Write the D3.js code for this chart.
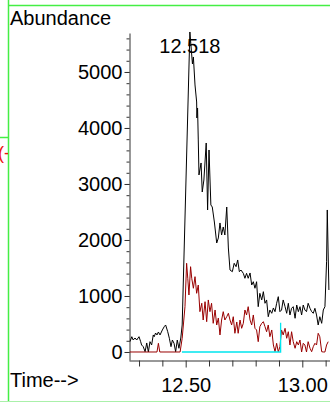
<!DOCTYPE html>
<html><head><meta charset="utf-8">
<script src="https://cdn.jsdelivr.net/npm/d3@7"></script>
<style>
html,body{margin:0;padding:0;background:#fff;}
svg{display:block;}
text{font-family:"Liberation Sans",Arial,sans-serif;}
</style></head>
<body>
<script>
// ---- data ----
const blackTime = [12.261,12.269,12.275,12.283,12.290,12.300,12.307,12.311,12.318,12.326,
12.333,12.340,12.347,12.354,12.361,12.365,12.371,12.377,12.383,12.390,
12.400,12.408,12.414,12.423,12.430,12.437,12.443,12.450,12.457,12.464,
12.471,12.479,12.485,12.518,
12.529,12.533,12.540,12.547,12.548,12.551,12.554,12.557,
12.566,12.571,12.578,12.588,12.594,12.600,12.608,12.614,12.623,12.633,12.640,12.647,12.654,12.661,12.668,12.676,12.683,
12.690,12.700,12.708,12.716,12.723,12.730,12.737,12.747,12.754,12.761,
12.768,12.776,12.783,12.790,12.797,12.804,12.811,12.818,12.826,12.833,
12.840,12.847,12.854,12.861,12.869,12.876,12.883,12.890,12.897,12.904,
12.911,12.918,12.926,12.933,12.940,12.947,12.954,12.961,12.969,12.976,
12.983,12.990,12.997,13.004,13.011,13.018,13.025,13.033,13.040,13.047,
13.054,13.061,13.068,13.075,13.083,13.090,13.097,13.104,13.107,13.114];
const blackAbund = [184,273,214,250,214,273,184,125,95,5,
161,0,184,125,304,273,339,304,357,304,
393,452,482,362,245,95,214,155,5,214,
66,250,482,5714,
5143,5268,4768,4464,4179,4357,3786,3161,
3375,2857,3071,3732,2536,3607,2625,2589,2321,1946,2036,2304,2089,2232,2089,2589,1857,
1464,1434,1584,1523,1643,1434,1464,1405,1316,1405,
1316,1411,1196,1255,1138,1255,809,1048,929,1077,
870,929,630,750,691,786,720,870,988,720,
750,929,809,691,870,661,780,809,602,839,
720,809,661,839,750,720,870,780,720,691,
780,661,482,630,512,750,809,1612,2536,1107];

const redTime = [12.261,12.377,12.383,12.389,12.476,12.485,12.497,12.504,12.509,12.514,
12.521,12.526,12.533,12.540,12.547,12.554,12.561,12.569,12.575,12.583,
12.590,12.597,12.604,12.611,12.618,12.626,12.633,12.640,12.647,12.654,
12.661,12.668,12.676,12.683,12.690,12.697,12.704,12.711,12.719,12.725,
12.733,12.740,12.747,12.754,12.761,12.768,12.776,12.783,12.790,12.797,
12.804,12.811,12.818,12.826,12.833,12.840,12.847,12.854,12.861,12.869,
12.876,12.883,12.890,12.897,12.904,12.911,12.918,12.926,12.933,12.940,
12.947,12.954,12.961,12.969,12.976,12.983,12.990,12.997,13.004,13.011,
13.018,13.025,13.033,13.040,13.047,13.054,13.061,13.068,13.075,13.083,
13.090,13.097,13.104,13.111];
const redAbund = [0,0,155,0,0,245,809,1584,1316,1018,
1523,1316,1138,1345,1048,1196,720,870,571,898,
541,929,720,870,512,750,482,607,304,571,
720,571,630,691,571,482,630,334,536,334,
571,423,512,750,661,809,571,482,661,423,
393,184,452,512,541,452,362,482,273,393,
125,5,155,0,95,393,304,423,245,362,
125,362,184,66,184,125,214,0,155,125,
0,184,66,5,95,155,125,334,273,5,
0,0,125,184];

const baseTime = [12.484, 12.907, 12.907];
const baseAbund = [0, 0, 520];

const yMajorTicks = [0,1000,2000,3000,4000,5000];
const yMinorTicks = d3.range(0, 5601, 200);
const xMajorTicks = [12.5, 13.0];
const xMinorTicks = [12.3,12.4,12.6,12.7,12.8,12.9,13.1];
const peakLabel = {time: 12.518, text: "12.518"};
const yTitle = "Abundance";
const xTitle = "Time-->";

// ---- drawing ----
const W = 330, H = 402;
const svg = d3.select("body").append("svg").attr("width", W).attr("height", H);

const x = d3.scaleLinear().domain([12.257, 13.15]).range([129, 337.3]);
const y = d3.scaleLinear().domain([-143, 5696]).range([360, 33]);

// frame decorations (green borders)
const green = "#44ee44";
svg.append("line").attr("x1",8.5).attr("x2",8.5).attr("y1",0).attr("y2",H).attr("stroke",green).attr("stroke-width",1.5);
svg.append("line").attr("x1",8).attr("x2",W).attr("y1",5.5).attr("y2",5.5).attr("stroke",green).attr("stroke-width",1.5);
svg.append("line").attr("x1",0).attr("x2",8).attr("y1",137.5).attr("y2",137.5).attr("stroke",green).attr("stroke-width",1.5);
svg.append("line").attr("x1",0).attr("x2",W).attr("y1",401.5).attr("y2",401.5).attr("stroke","#aaf0aa").attr("stroke-width",1);

svg.append("clipPath").attr("id","lc").append("rect").attr("x",0).attr("y",130).attr("width",8).attr("height",40);
svg.append("text").attr("x",-2).attr("y",159).attr("fill","#ee1111").attr("font-size",18)
  .attr("clip-path","url(#lc)").text("(-");

// axes
const axisColor = "#333";
const yAxis = svg.append("g").attr("transform","translate(129.5,0)")
  .call(d3.axisLeft(y).tickValues(yMajorTicks).tickSize(5).tickSizeOuter(0).tickPadding(2).tickFormat(d3.format("d")));
const yMinor = svg.append("g").attr("transform","translate(129.5,0)")
  .call(d3.axisLeft(y).tickValues(yMinorTicks).tickSize(3).tickSizeOuter(0).tickFormat(""));
yMinor.select(".domain").remove();

const xAxis = svg.append("g").attr("transform","translate(0,360.5)")
  .call(d3.axisBottom(x).tickValues(xMajorTicks).tickSize(7).tickSizeOuter(0).tickPadding(10).tickFormat(d3.format(".2f")));
const xMinor = svg.append("g").attr("transform","translate(0,360.5)")
  .call(d3.axisBottom(x).tickValues(xMinorTicks).tickSize(6).tickSizeOuter(0).tickFormat(""));
xMinor.select(".domain").remove();

svg.selectAll(".domain, .tick line").attr("stroke", axisColor);
svg.selectAll(".tick text").attr("font-size", 20).attr("fill","#000")
  .attr("font-family","'Liberation Sans',Arial,sans-serif");

// traces
const line = d3.line().x(d => x(d[0])).y(d => y(d[1]));
svg.append("path").datum(d3.zip(blackTime, blackAbund))
  .attr("d", line).attr("fill","none").attr("stroke","#000").attr("stroke-width",1);
svg.append("path").datum(d3.zip(redTime, redAbund))
  .attr("d", line).attr("fill","none").attr("stroke","#990000").attr("stroke-width",1);
svg.append("path").datum(d3.zip(baseTime, baseAbund))
  .attr("d", line).attr("fill","none").attr("stroke","#00e5ee").attr("stroke-width",1.3);

// texts
svg.append("text").attr("x",10).attr("y",25).attr("font-size",20).text(yTitle);
svg.append("text").attr("x",10).attr("y",387).attr("font-size",20).text(xTitle);
svg.append("text").attr("x",x(peakLabel.time)).attr("y",52.5).attr("text-anchor","middle")
  .attr("font-size",20).text(peakLabel.text);
</script>
</body></html>
